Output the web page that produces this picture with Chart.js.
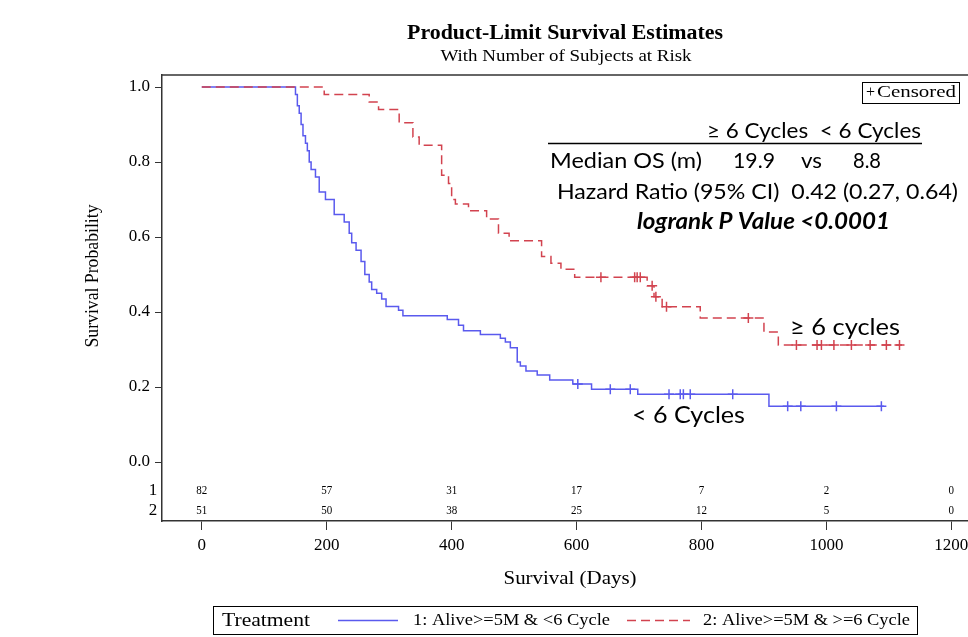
<!DOCTYPE html>
<html>
<head>
<meta charset="utf-8">
<script src="https://cdn.jsdelivr.net/npm/chart.js@4"></script>
<style>
  html, body { margin: 0; padding: 0; background: #fff; overflow: hidden; }
  #wrap { width: 1000px; height: 637px; }
</style>
</head>
<body>
<div id="wrap"><canvas id="chart" width="1000" height="637"></canvas></div>
<script>
// group 1: Alive>=5M & <6 Cycle (blue)
const lowTimes = [0, 150, 153, 156, 159, 162, 166, 169, 172, 175, 182, 188, 198, 212, 228, 236, 240, 247, 255, 261, 268, 272, 280, 288, 295, 315, 322, 393, 411, 419, 446, 478, 486, 494, 505, 510, 519, 537, 557, 594, 624, 698, 908, 1092];
const lowSurv = [1, 0.98, 0.95, 0.93, 0.9, 0.87, 0.85, 0.83, 0.8, 0.78, 0.76, 0.72, 0.7, 0.66, 0.64, 0.61, 0.585, 0.565, 0.535, 0.5, 0.48, 0.46, 0.45, 0.435, 0.415, 0.405, 0.39, 0.38, 0.365, 0.35, 0.34, 0.33, 0.32, 0.305, 0.267, 0.256, 0.243, 0.232, 0.219, 0.208, 0.194, 0.181, 0.149, 0.149];
const lowCensored = [602, 654, 686, 748, 766, 771, 782, 850, 938, 959, 1016, 1088];

// group 2: Alive>=5M & >=6 Cycle (red)
const highTimes = [0, 196, 268, 283, 316, 338, 348, 384, 395, 400, 406, 427, 456, 475, 492, 544, 559, 575, 597, 713, 724, 737, 798, 900, 923, 1121];
const highSurv = [1, 0.98, 0.96, 0.94, 0.905, 0.867, 0.845, 0.765, 0.743, 0.7, 0.688, 0.67, 0.648, 0.61, 0.59, 0.548, 0.53, 0.514, 0.4925, 0.47, 0.441, 0.414, 0.384, 0.347, 0.312, 0.312];
const highCensored = [639, 693, 697, 702, 721, 727, 744, 875, 952, 985, 992, 1012, 1040, 1070, 1096, 1117];

// number at risk
const riskTimes = [0, 200, 400, 600, 800, 1000, 1200];
const riskLow = [82, 57, 31, 17, 7, 2, 0];
const riskHigh = [51, 50, 38, 25, 12, 5, 0];

const xTicks = [0, 200, 400, 600, 800, 1000, 1200];
const yTicks = [0, 0.2, 0.4, 0.6, 0.8, 1.0];

const blue = '#5a5aee';
const red = '#d2434f';
const serif = '"Liberation Serif", "Times New Roman", serif';
const sans = 'Lato, "Noto Sans", sans-serif';

const toPoints = (times, surv) => times.map((t, i) => ({ x: t, y: surv[i] }));

// survival value at time t (step function)
const survAt = (times, surv, t) => {
    let s = surv[0];
    for (let i = 0; i < times.length; i++) {
        if (times[i] <= t) s = surv[i];
    }
    return s;
};
const censorPoints = (cens, times, surv) => cens.map((t) => ({ x: t, y: survAt(times, surv, t) }));

// draw text stretched horizontally to a given width
const fitText = (ctx, text, x, y, font, width, align = 'left', rot = 0) => {
    ctx.font = font;
    const sx = width ? width / ctx.measureText(text).width : 1;
    ctx.save();
    ctx.translate(x, y);
    if (rot) ctx.rotate(rot);
    ctx.scale(sx, 1);
    ctx.textAlign = align;
    ctx.fillText(text, 0, 0);
    ctx.restore();
};

const extras = {
    id: 'extras',
    afterDraw(chart) {
        const ctx = chart.ctx;
        const area = chart.chartArea;
        const xs = chart.scales.x;
        ctx.save();
        ctx.fillStyle = '#000';
        ctx.textBaseline = 'middle';

        // titles
        fitText(ctx, 'Product-Limit Survival Estimates', 565, 34, 'bold 20px ' + serif, 316, 'center');
        fitText(ctx, 'With Number of Subjects at Risk', 566, 57, '16px ' + serif, 251, 'center');
        fitText(ctx, 'Survival (Days)', 570, 579, '18px ' + serif, 133, 'center');
        fitText(ctx, 'Survival Probability', 93, 276, '18px ' + serif, 143, 'center', -Math.PI / 2);

        // top frame line
        ctx.strokeStyle = '#333';
        ctx.lineWidth = 1.5;
        ctx.beginPath();
        ctx.moveTo(area.left, area.top);
        ctx.lineTo(area.right, area.top);
        ctx.stroke();

        // numbers at risk
        ctx.textAlign = 'center';
        ctx.font = '17px ' + serif;
        ctx.fillText('1', 153, 491);
        ctx.fillText('2', 153, 511);
        riskTimes.forEach((t, i) => {
            const px = xs.getPixelForValue(t);
            fitText(ctx, String(riskLow[i]), px, 491, '13px ' + serif, String(riskLow[i]).length * 5.5, 'center');
            fitText(ctx, String(riskHigh[i]), px, 511, '13px ' + serif, String(riskHigh[i]).length * 5.5, 'center');
        });

        // censored box
        ctx.lineWidth = 1;
        ctx.strokeStyle = '#000';
        ctx.strokeRect(862.5, 82.5, 97, 21);
        fitText(ctx, '+', 866, 93, '16px ' + serif, 0);
        fitText(ctx, 'Censored', 877, 93, '16px ' + serif, 79);

        // bottom legend
        ctx.strokeRect(213.5, 606.5, 704, 28);
        fitText(ctx, 'Treatment', 222, 621, '18px ' + serif, 88);
        fitText(ctx, '1: Alive>=5M & <6 Cycle', 413, 621, '16px ' + serif, 197);
        fitText(ctx, '2: Alive>=5M & >=6 Cycle', 703, 621, '16px ' + serif, 207);
        ctx.lineWidth = 1.5;
        ctx.strokeStyle = blue;
        ctx.beginPath();
        ctx.moveTo(338, 620.5);
        ctx.lineTo(398, 620.5);
        ctx.stroke();
        ctx.strokeStyle = red;
        ctx.setLineDash([9, 5]);
        ctx.beginPath();
        ctx.moveTo(627, 620.5);
        ctx.lineTo(690, 620.5);
        ctx.stroke();
        ctx.setLineDash([]);

        // annotation block
        fitText(ctx, '\u2265 6 Cycles  < 6 Cycles', 707, 131, '22px ' + sans, 214);
        ctx.lineWidth = 1.5;
        ctx.strokeStyle = '#000';
        ctx.beginPath();
        ctx.moveTo(548, 143.5);
        ctx.lineTo(922, 143.5);
        ctx.stroke();
        fitText(ctx, 'Median OS (m)', 550, 161, '22px ' + sans, 152);
        fitText(ctx, '19.9', 733, 161, '22px ' + sans, 42);
        fitText(ctx, 'vs', 801, 161, '22px ' + sans, 21);
        fitText(ctx, '8.8', 853, 161, '22px ' + sans, 28);
        fitText(ctx, 'Hazard Ratio (95% CI)  0.42 (0.27, 0.64)', 557, 192, '22px ' + sans, 401);
        fitText(ctx, 'logrank P Value <0.0001', 637, 222, 'italic bold 22px ' + sans, 253);

        fitText(ctx, '\u2265 6 cycles', 790, 327, '24px ' + sans, 110);
        fitText(ctx, '< 6 Cycles', 632, 415, '24px ' + sans, 113);
        ctx.restore();
    }
};

new Chart(document.getElementById('chart'), {
    type: 'line',
    data: {
        datasets: [
            {
                label: '2: Alive>=5M & >=6 Cycle',
                data: toPoints(highTimes, highSurv),
                borderColor: red,
                borderWidth: 1.5,
                borderDash: [9, 5],
                stepped: true,
                pointRadius: 0,
                fill: false,
            },
            {
                label: 'censored high',
                type: 'scatter',
                data: censorPoints(highCensored, highTimes, highSurv),
                pointStyle: 'cross',
                pointRadius: 5,
                borderColor: red,
                borderWidth: 1.5,
            },
            {
                label: '1: Alive>=5M & <6 Cycle',
                data: toPoints(lowTimes, lowSurv),
                borderColor: blue,
                borderWidth: 1.5,
                stepped: true,
                pointRadius: 0,
                fill: false,
            },
            {
                label: 'censored low',
                type: 'scatter',
                data: censorPoints(lowCensored, lowTimes, lowSurv),
                pointStyle: 'cross',
                pointRadius: 5,
                borderColor: blue,
                borderWidth: 1.5,
            },
        ],
    },
    options: {
        responsive: false,
        animation: false,
        devicePixelRatio: 1,
        layout: { padding: { left: 0, top: 75, right: 2, bottom: 46 } },
        plugins: {
            legend: { display: false },
            tooltip: { enabled: false },
        },
        scales: {
            x: {
                type: 'linear',
                min: -63.7,
                max: 1267.5,
                afterBuildTicks: (scale) => { scale.ticks = xTicks.map((v) => ({ value: v })); },
                afterFit: (scale) => { scale.height = 70; },
                ticks: {
                    color: '#000',
                    font: { family: serif, size: 17 },
                    padding: 5,
                    maxRotation: 0,
                    callback: (v) => String(v),
                },
                grid: { drawOnChartArea: false, tickLength: 9, color: '#333', lineWidth: 1 },
                border: { display: true, color: '#333', width: 1.5 },
            },
            y: {
                type: 'linear',
                min: -0.1573,
                max: 1.032,
                afterBuildTicks: (scale) => { scale.ticks = yTicks.map((v) => ({ value: v })); },
                afterFit: (scale) => { scale.width = 162; },
                ticks: {
                    color: '#000',
                    font: { family: serif, size: 17 },
                    padding: 5,
                    callback: (v) => v.toFixed(1),
                },
                grid: { drawOnChartArea: false, tickLength: 7, color: '#333', lineWidth: 1 },
                border: { display: true, color: '#333', width: 1.5 },
            },
        },
    },
    plugins: [extras],
});
</script>
</body>
</html>
